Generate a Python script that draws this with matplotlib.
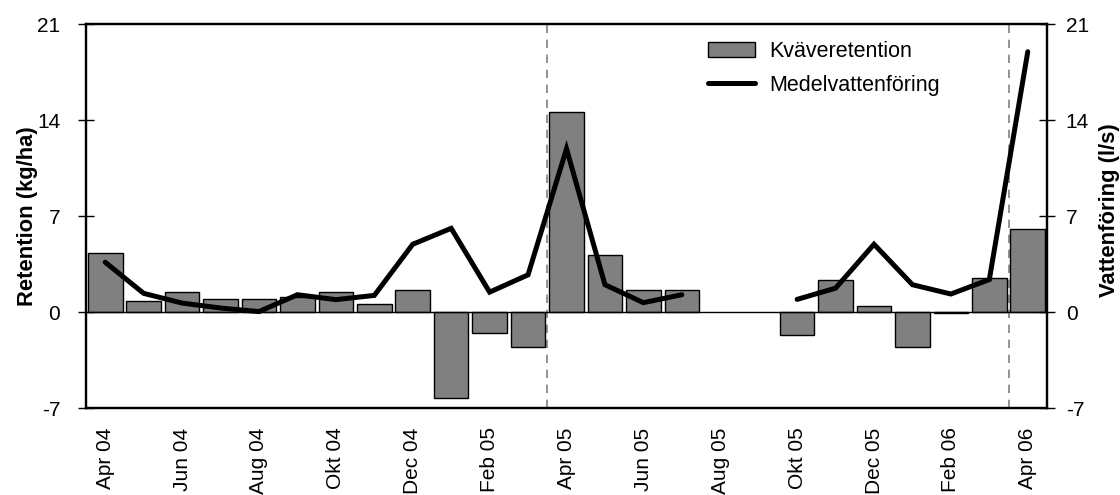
import numpy as np
import matplotlib
matplotlib.use("Agg")
import matplotlib.pyplot as plt

plt.rcParams['font.family'] = ['Liberation Sans', 'DejaVu Sans']

months = ["Apr 04", "Maj 04", "Jun 04", "Jul 04", "Aug 04", "Sep 04", "Okt 04", "Nov 04",
          "Dec 04", "Jan 05", "Feb 05", "Mar 05", "Apr 05", "Maj 05", "Jun 05", "Jul 05",
          "Aug 05", "Sep 05", "Okt 05", "Nov 05", "Dec 05", "Jan 06", "Feb 06", "Mar 06", "Apr 06"]

retention = [4.3, 0.8, 1.45, 0.92, 0.92, 1.07, 1.45, 0.56, 1.57, -6.3, -1.53, -2.57,
             14.55, 4.16, 1.57, 1.57, np.nan, np.nan, -1.65, 2.35, 0.44, -2.57, -0.05, 2.49, 6.08]

flow = [3.63, 1.36, 0.65, 0.29, 0.03, 1.26, 0.9, 1.21, 4.94, 6.1, 1.45, 2.71,
        11.9, 1.99, 0.68, 1.26, np.nan, np.nan, 0.92, 1.74, 4.94, 1.99, 1.31, 2.37, 18.98]

period_breaks = [11.5, 23.5]
yticks = [-7, 0, 7, 14, 21]

FS = 15
fig = plt.figure(figsize=(11.2, 4.95), dpi=100)
ax = fig.add_axes([86/1120, 87/495, (1047-86)/1120, (408-24)/495])
x = np.arange(len(months))

ret = np.array(retention, dtype=float)
ok = ~np.isnan(ret)
ax.bar(x[ok], ret[ok], width=0.9, color='#808080', edgecolor='black',
       linewidth=1.0, label='Kväveretention', zorder=2)
ax.axhline(0, color='black', linewidth=1.0, zorder=3)
for b in period_breaks:
    ax.axvline(b, color='#808080', linestyle=(0, (5, 4)), linewidth=1.2, zorder=1)

ax.set_xlim(-0.5, len(months) - 0.5)
ax.set_ylim(-7, 21)
ax.set_yticks(yticks)
ax.set_yticklabels([str(t) for t in yticks], fontsize=FS)
ax.set_xticks(x[::2])
ax.set_xticklabels(months[::2], rotation=90, fontsize=FS)
ax.tick_params(axis='x', length=0, pad=14)
ax.tick_params(axis='y', direction='inout', length=11, width=1.0, pad=13)
ax.set_ylabel('Retention (kg/ha)', fontsize=15.8, fontweight='bold')
ax.yaxis.set_label_coords((38-86)/961, 0.5)
for s in ax.spines.values():
    s.set_linewidth(1.6)

ax2 = ax.twinx()
ax2.plot(x, flow, color='black', linewidth=3.6, solid_capstyle='round',
         solid_joinstyle='miter', label='Medelvattenföring', zorder=4)
ax2.set_ylim(-7, 21)
ax2.set_yticks(yticks)
ax2.set_yticklabels([str(t) for t in yticks], fontsize=FS)
ax2.tick_params(axis='y', direction='inout', length=11, width=1.0, pad=8)
ax2.set_ylabel('Vattenföring (l/s)', fontsize=15.8, fontweight='bold')
ax2.yaxis.set_label_coords((1099-86)/961, (408-210)/384)
for s in ax2.spines.values():
    s.set_linewidth(1.6)

h1, l1 = ax.get_legend_handles_labels()
h2, l2 = ax2.get_legend_handles_labels()
leg = fig.legend(h1 + h2, l1 + l2, loc='upper left',
                 bbox_to_anchor=(708/1120, (495-41)/495), frameon=False,
                 fontsize=15.5, handlelength=2.2, handletextpad=0.65,
                 labelspacing=0.6, borderpad=0, borderaxespad=0)

fig.savefig('out.png', dpi=100)
